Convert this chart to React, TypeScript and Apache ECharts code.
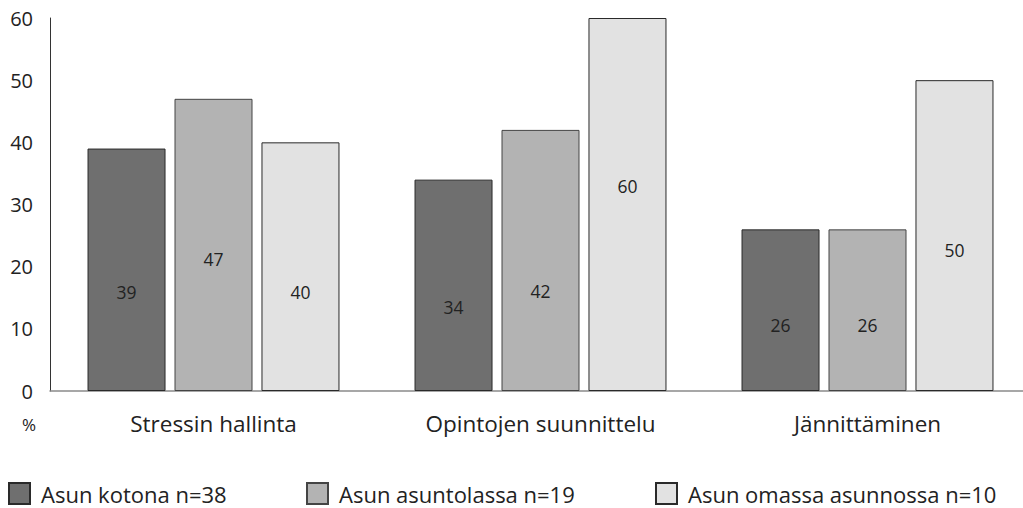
import React, { useEffect, useRef } from "react";
import * as echarts from "echarts";

const categories = ["Stressin hallinta", "Opintojen suunnittelu", "Jännittäminen"];
const seriesNames = ["Asun kotona n=38", "Asun asuntolassa n=19", "Asun omassa asunnossa n=10"];
const kotona = [39, 34, 26];
const asuntola = [47, 42, 26];
const oma = [40, 60, 50];
const yTicks = { min: 0, max: 60, interval: 10 };

// label nudges in pixels (style only)
const labelNudge = [
  [22, 22, 15],
  [14, 31, 15],
  [25, -19, 14],
];
const colors = ["#6f6f6f", "#b3b3b3", "#e2e2e2"];
const borders = ["#2a2a2a", "#444444", "#2a2a2a"];
const FONT = "Open Sans";

export default function App() {
  const ref = useRef<HTMLDivElement>(null);
  useEffect(() => {
    document.body.style.overflow = "hidden";
    if (!ref.current) return;
    const chart = echarts.init(ref.current, null, { renderer: "svg" });
    const values = [kotona, asuntola, oma];
    const legendLefts = [8, 306, 655];
    chart.setOption({
      animation: false,
      textStyle: { fontFamily: FONT },
      grid: { left: 50, right: 0, top: 18, bottom: 117, containLabel: false },
      legend: seriesNames.map((n, i) => ({
        data: [n],
        left: legendLefts[i],
        top: 482,
        padding: 0,
        itemWidth: 21,
        itemHeight: 21,
        itemGap: 10,
        textStyle: {
          fontFamily: FONT,
          fontSize: 22,
          lineHeight: 21,
          color: "#222",
          padding: [0, 0, 0, 6],
        },
        icon: "rect",
      })),
      xAxis: {
        type: "category",
        data: categories,
        axisLine: { lineStyle: { color: "#8a8a8a", width: 1.5 } },
        axisTick: { show: false },
        axisLabel: { fontFamily: FONT, fontSize: 22.5, color: "#222", margin: 21 },
      },
      yAxis: {
        type: "value",
        min: yTicks.min,
        max: yTicks.max,
        interval: yTicks.interval,
        axisLine: { show: true, lineStyle: { color: "#333", width: 1 } },
        axisTick: { show: false },
        splitLine: { show: false },
        axisLabel: { fontFamily: FONT, fontSize: 20, color: "#222", margin: 17 },
      },
      graphic: [
        {
          type: "text",
          left: 22,
          top: 416,
          style: { text: "%", fontFamily: FONT, fontSize: 17, fill: "#222" },
        },
      ],
      series: seriesNames.map((n, i) => ({
        name: n,
        type: "bar",
        barWidth: 78,
        barGap: "11.5%",
        itemStyle: { color: colors[i], borderColor: borders[i], borderWidth: 1 },
        label: {
          show: true,
          position: "inside",
          fontFamily: FONT,
          fontSize: 17.5,
          color: "#222",
        },
        data: values[i].map((v, j) => ({ value: v, label: { offset: [0, labelNudge[i][j]] } })),
      })),
    });
    return () => chart.dispose();
  }, []);
  return (
    <div
      ref={ref}
      style={{ position: "fixed", left: 0, top: 0, width: 1031, height: 508, background: "#fff" }}
    />
  );
}
